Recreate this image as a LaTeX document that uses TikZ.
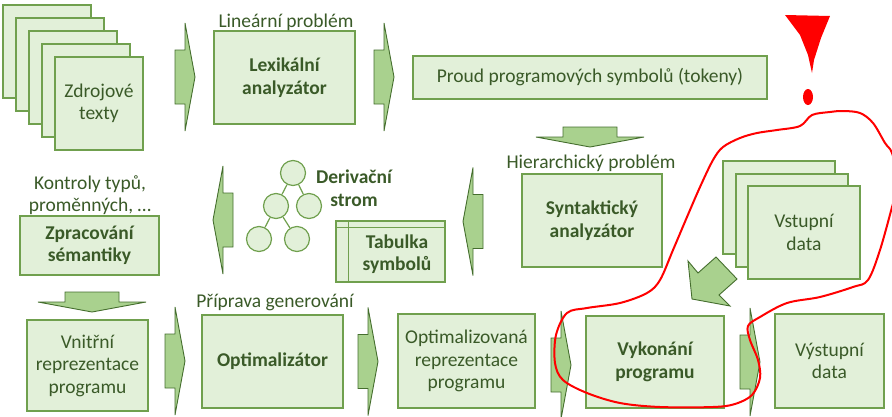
\documentclass[tikz,border=0pt]{standalone}
\usepackage{fontspec}
\setmainfont{Carlito}
\definecolor{BoxFill}{HTML}{E2F0D9}
\definecolor{BoxLine}{HTML}{70A04E}
\definecolor{ArrowFill}{HTML}{A9D18E}
\definecolor{ArrowLine}{HTML}{456E2E}
\definecolor{TextClr}{HTML}{3A5A28}
\definecolor{PenClr}{HTML}{FF0000}

\begin{document}
\begin{tikzpicture}[x=1pt,y=-1pt,
  sheet/.style={draw=BoxLine,fill=BoxFill,line width=1.2pt},
  box/.style={sheet,text=TextClr,align=center,inner sep=0pt,font=\fontsize{19.5}{22.5}\selectfont},
  bbox/.style={box,font=\fontsize{19.5}{22.5}\selectfont\bfseries},
  note/.style={text=TextClr,align=center,inner sep=0pt,font=\fontsize{19.5}{22.5}\selectfont},
  bnote/.style={note,font=\fontsize{19.5}{22.5}\selectfont\bfseries},
  leaf/.style={circle,sheet,minimum size=25pt,inner sep=0pt},
  branch/.style={draw=BoxLine,line width=1.2pt},
  flow/.pic={\draw[draw=ArrowLine,fill=ArrowFill,line width=0.9pt]
    (0,-27) -- (10,-27) -- (10,-54) -- (20,0) -- (10,54) -- (10,27) -- (0,27) -- cycle;},
  pen/.style={draw=PenClr,line width=2pt,line join=round,line cap=round}]
\useasboundingbox (0,0) rectangle (892,416);

\draw[sheet] (3,5) rectangle (91,98);
\draw[sheet] (16,18) rectangle (104,111);
\draw[sheet] (29,31) rectangle (117,124);
\draw[sheet] (42,44) rectangle (130,137);
\node[box,minimum width=88pt,minimum height=93pt] (src) at (99,103.5) {Zdrojové\\texty};

\node[bbox,minimum width=141pt,minimum height=93pt] (lex) at (284.5,77.5) {Lexikální\\analyzátor};
\node[note,anchor=base] (lexnote) at (286,27) {Lineární problém};
\node[box,minimum width=354pt,minimum height=43pt] (tokens) at (590,77.5) {Proud programových symbolů (tokeny)};

\node[bbox,minimum width=140pt,minimum height=93pt] (syn) at (592,220.5) {Syntaktický\\analyzátor};
\node[note,anchor=base] (synnote) at (591,168) {Hierarchický problém};

\node[leaf] (t1) at (293,173) {};
\node[leaf] (t2) at (276,206) {};
\node[leaf] (t3) at (309,206) {};
\node[leaf] (t4) at (259,239) {};
\node[leaf] (t5) at (297,239) {};
\draw[branch] (t1) -- (t2) (t1) -- (t3) (t2) -- (t4) (t2) -- (t5);
\node[bnote] (treenote) at (354,188) {Derivační\\strom};

\node[sheet,minimum width=109pt,minimum height=61pt] (tab) at (390.5,251.5) {};
\draw[branch] ([yshift=-7pt]tab.north west) -- ([yshift=-7pt]tab.north east);
\draw[branch] ([xshift=13pt]tab.north west) -- ([xshift=13pt]tab.south west);
\node[bnote] (tabtext) at (397,254) {Tabulka\\symbolů};

\node[bbox,minimum width=139pt,minimum height=59pt] (sem) at (89.5,245.5) {Zpracování\\sémantiky};
\node[note] (semnote) at (90,195) {Kontroly typů,\\proměnných, …};

\node[box,minimum width=121pt,minimum height=91pt] (inner) at (87.5,365.5) {Vnitřní\\reprezentace\\programu};
\node[bbox,minimum width=141pt,minimum height=93pt] (opt) at (272.5,361.5) {Optimalizátor};
\node[note,anchor=base] (optnote) at (275,307) {Příprava generování};
\node[box,minimum width=137pt,minimum height=94pt] (optrep) at (466.5,361) {Optimalizovaná\\reprezentace\\programu};
\node[bbox,minimum width=138pt,minimum height=92pt] (exec) at (655,362) {Vykonání\\programu};
\node[box,minimum width=109pt,minimum height=94pt] (out) at (829.5,361) {Výstupní\\data};

\draw[sheet] (723,161) rectangle (835,254);
\draw[sheet] (736,174) rectangle (848,267);
\node[box,minimum width=112pt,minimum height=93pt] (in) at (804,232.5) {Vstupní\\data};

\pic at (175,77) {flow};
\pic at (374,77) {flow};
\pic[rotate=-90] at (590,127) {flow};
\pic[rotate=180] at (483,221.5) {flow};
\pic[rotate=180] at (233,220) {flow};
\pic[rotate=-90] at (92,292) {flow};
\pic at (165,361) {flow};
\pic at (358,361.5) {flow};
\pic at (551,365) {flow};
\pic at (740,362) {flow};
\draw[draw=ArrowLine,fill=ArrowFill,line width=0.9pt]
  (716,257) -- (698,273) -- (688,261) -- (692,299) -- (730,306) -- (719,295) -- (737,279) -- cycle;

\fill[PenClr] (785,15) -- (830,16) -- (821,38) -- (814,60) -- (812,73) -- (808,55) -- (800,35) -- cycle;
\fill[PenClr] (808,97) ellipse (5 and 8);
\draw[pen] plot[smooth,tension=0.55] coordinates {(892,207) (880,250) (868,280) (853,287) (820,297) (787,303)
  (760,317) (748,326) (750,340) (758,360) (760,378) (752,395) (735,404) (713,407) (660,407) (620,403)
  (587,393) (563,380) (555,363) (556,335) (567,313) (587,308) (620,303) (647,293) (660,280) (673,250)
  (687,217) (700,187) (713,160) (723,147) (740,138) (757,133) (777,130) (800,126) (812,115) (830,112)
  (843,111) (860,113) (873,123) (885,143) (892,153) (898,180) (892,207)};

\end{tikzpicture}
\end{document}
